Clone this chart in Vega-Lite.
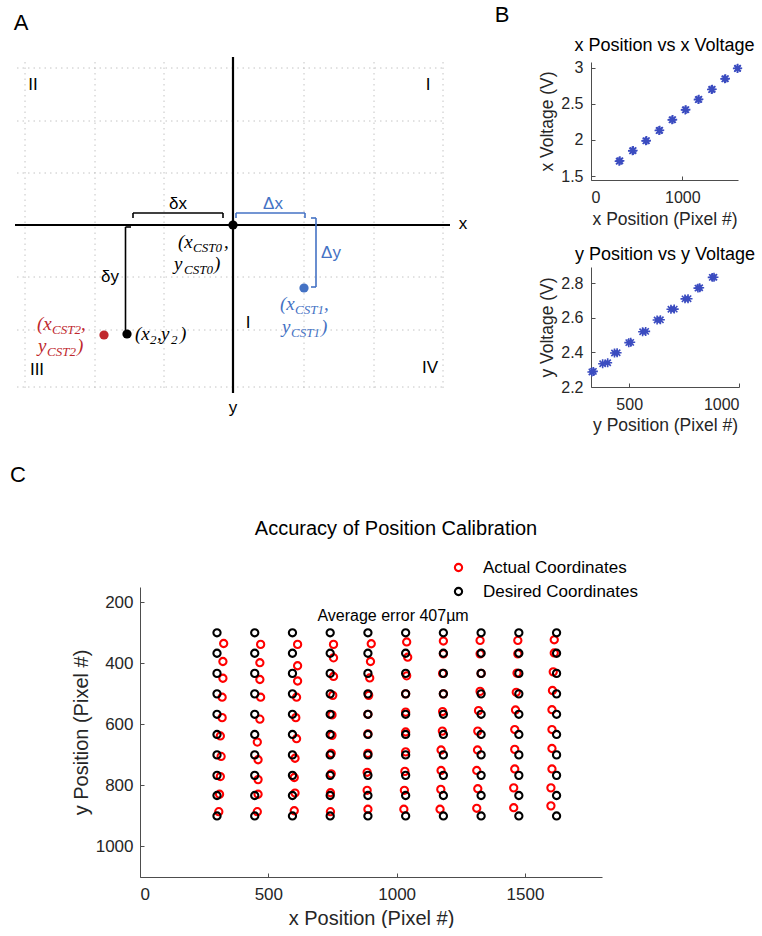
{
  "$schema": "https://vega.github.io/schema/vega-lite/v6.json",
  "padding": 0,
  "autosize": {"type": "pad"},
  "background": "white",
  "config": {
    "view": {"stroke": null},
    "font": "Liberation Sans",
    "axis": {"domainColor": "#4d4d4d", "tickColor": "#4d4d4d", "labelColor": "#262626", "titleColor": "#262626", "titleFontWeight": "normal", "grid": false, "tickSize": -4, "domainWidth": 1, "tickWidth": 1, "labelFont": "Liberation Sans", "titleFont": "Liberation Sans"},
    "title": {"fontWeight": "normal", "color": "#000000", "font": "Liberation Sans"}
  },
  "datasets": {
    "gridA": [
      {"x1": 25, "y1": 62, "x2": 25, "y2": 389}, {"x1": 95, "y1": 62, "x2": 95, "y2": 389}, {"x1": 164, "y1": 62, "x2": 164, "y2": 389},
      {"x1": 304, "y1": 62, "x2": 304, "y2": 389}, {"x1": 374, "y1": 62, "x2": 374, "y2": 389}, {"x1": 443, "y1": 62, "x2": 443, "y2": 389},
      {"x1": 17, "y1": 68, "x2": 446, "y2": 68}, {"x1": 17, "y1": 121, "x2": 446, "y2": 121}, {"x1": 17, "y1": 173, "x2": 446, "y2": 173},
      {"x1": 17, "y1": 277, "x2": 446, "y2": 277}, {"x1": 17, "y1": 330, "x2": 446, "y2": 330}, {"x1": 17, "y1": 387, "x2": 446, "y2": 387}
    ],
    "axesA": [
      {"x1": 15, "y1": 225, "x2": 450, "y2": 225},
      {"x1": 233, "y1": 57, "x2": 233, "y2": 393}
    ],
    "bracketsA": [
      {"x1": 133, "y1": 213, "x2": 223, "y2": 213, "c": "k"}, {"x1": 133, "y1": 213, "x2": 133, "y2": 218, "c": "k"}, {"x1": 223, "y1": 213, "x2": 223, "y2": 218, "c": "k"},
      {"x1": 236, "y1": 213, "x2": 305, "y2": 213, "c": "b"}, {"x1": 236, "y1": 213, "x2": 236, "y2": 218, "c": "b"}, {"x1": 305, "y1": 213, "x2": 305, "y2": 218, "c": "b"},
      {"x1": 316, "y1": 218, "x2": 316, "y2": 287, "c": "b"}, {"x1": 311, "y1": 218, "x2": 316, "y2": 218, "c": "b"}, {"x1": 311, "y1": 287, "x2": 316, "y2": 287, "c": "b"},
      {"x1": 125.5, "y1": 227, "x2": 125.5, "y2": 330, "c": "k"}, {"x1": 125.5, "y1": 227, "x2": 131, "y2": 227, "c": "k"}
    ],
    "dotsA": [
      {"x": 233, "y": 225, "c": "k"}, {"x": 304, "y": 288, "c": "b"}, {"x": 104, "y": 335, "c": "r"}, {"x": 127, "y": 334, "c": "k"}
    ],
    "labelsA": [
      {"x": 33, "y": 85, "text": "II", "c": "k"}, {"x": 428, "y": 85, "text": "I", "c": "k"}, {"x": 37, "y": 370, "text": "III", "c": "k"},
      {"x": 430, "y": 368, "text": "IV", "c": "k"}, {"x": 248, "y": 323, "text": "I", "c": "k"}, {"x": 463, "y": 224, "text": "x", "c": "k"},
      {"x": 233, "y": 408, "text": "y", "c": "k"}, {"x": 178, "y": 204, "text": "δx", "c": "k"}, {"x": 273, "y": 204, "text": "Δx", "c": "b"},
      {"x": 331, "y": 253, "text": "Δy", "c": "b"}, {"x": 110, "y": 277, "text": "δy", "c": "k"}
    ],
    "mathMain": [
      {"x": 178, "y": 248, "text": "(x", "c": "k"}, {"x": 224, "y": 248, "text": ",", "c": "k"}, {"x": 174, "y": 270, "text": "y", "c": "k"}, {"x": 214, "y": 270, "text": ")", "c": "k"},
      {"x": 37, "y": 330, "text": "(x", "c": "r"}, {"x": 81, "y": 330, "text": ",", "c": "r"}, {"x": 38, "y": 352, "text": "y", "c": "r"}, {"x": 77, "y": 352, "text": ")", "c": "r"},
      {"x": 280, "y": 310, "text": "(x", "c": "b"}, {"x": 324, "y": 310, "text": ",", "c": "b"}, {"x": 282, "y": 333, "text": "y", "c": "b"}, {"x": 321, "y": 333, "text": ")", "c": "b"},
      {"x": 135, "y": 340, "text": "(x", "c": "k"}, {"x": 157, "y": 340, "text": ",", "c": "k"}, {"x": 161, "y": 340, "text": "y", "c": "k"}, {"x": 180, "y": 340, "text": ")", "c": "k"}
    ],
    "mathSub": [
      {"x": 193, "y": 252, "text": "CST0", "c": "k"}, {"x": 184, "y": 274, "text": "CST0", "c": "k"},
      {"x": 52, "y": 334, "text": "CST2", "c": "r"}, {"x": 47, "y": 356, "text": "CST2", "c": "r"},
      {"x": 295, "y": 314, "text": "CST1", "c": "b"}, {"x": 291, "y": 337, "text": "CST1", "c": "b"},
      {"x": 150, "y": 344, "text": "2", "c": "k"}, {"x": 171, "y": 344, "text": "2", "c": "k"}
    ],
    "letters": [
      {"x": 21, "y": 23, "text": "A"}, {"x": 502, "y": 15, "text": "B"}, {"x": 18, "y": 475, "text": "C"}
    ],
    "bx": [
      {"pos": 308, "volt": 1.705}, {"pos": 317, "volt": 1.711}, {"pos": 454, "volt": 1.849}, {"pos": 462, "volt": 1.853},
      {"pos": 600, "volt": 1.987}, {"pos": 608, "volt": 1.991}, {"pos": 745, "volt": 2.13}, {"pos": 753, "volt": 2.134},
      {"pos": 887, "volt": 2.278}, {"pos": 895, "volt": 2.282}, {"pos": 1032, "volt": 2.416}, {"pos": 1040, "volt": 2.42},
      {"pos": 1174, "volt": 2.559}, {"pos": 1182, "volt": 2.563}, {"pos": 1320, "volt": 2.698}, {"pos": 1328, "volt": 2.702},
      {"pos": 1465, "volt": 2.846}, {"pos": 1473, "volt": 2.85}, {"pos": 1603, "volt": 2.989}, {"pos": 1607, "volt": 2.993}
    ],
    "by": [
      {"pos": 330, "volt": 2.287}, {"pos": 337, "volt": 2.29}, {"pos": 379, "volt": 2.334}, {"pos": 402, "volt": 2.34},
      {"pos": 433, "volt": 2.396}, {"pos": 445, "volt": 2.398}, {"pos": 498, "volt": 2.456}, {"pos": 507, "volt": 2.458},
      {"pos": 561, "volt": 2.519}, {"pos": 575, "volt": 2.521}, {"pos": 627, "volt": 2.587}, {"pos": 642, "volt": 2.588},
      {"pos": 690, "volt": 2.649}, {"pos": 705, "volt": 2.65}, {"pos": 754, "volt": 2.709}, {"pos": 768, "volt": 2.71},
      {"pos": 813, "volt": 2.771}, {"pos": 821, "volt": 2.773}, {"pos": 878, "volt": 2.833}, {"pos": 886, "volt": 2.834}
    ],
    "cnote": [{"x": 986, "y": 245, "label": "Average error 407µm"}],
    "cpts": [
      {"series": "Actual Coordinates", "x": 326, "y": 335}, {"series": "Actual Coordinates", "x": 323, "y": 394}, {"series": "Actual Coordinates", "x": 323, "y": 449}, {"series": "Actual Coordinates", "x": 320, "y": 511}, {"series": "Actual Coordinates", "x": 320, "y": 578}, {"series": "Actual Coordinates", "x": 313, "y": 638}, {"series": "Actual Coordinates", "x": 316, "y": 705}, {"series": "Actual Coordinates", "x": 313, "y": 771}, {"series": "Actual Coordinates", "x": 310, "y": 829}, {"series": "Actual Coordinates", "x": 307, "y": 886},
      {"series": "Actual Coordinates", "x": 470, "y": 338}, {"series": "Actual Coordinates", "x": 467, "y": 398}, {"series": "Actual Coordinates", "x": 467, "y": 453}, {"series": "Actual Coordinates", "x": 470, "y": 511}, {"series": "Actual Coordinates", "x": 467, "y": 583}, {"series": "Actual Coordinates", "x": 457, "y": 658}, {"series": "Actual Coordinates", "x": 460, "y": 716}, {"series": "Actual Coordinates", "x": 460, "y": 781}, {"series": "Actual Coordinates", "x": 460, "y": 829}, {"series": "Actual Coordinates", "x": 457, "y": 886},
      {"series": "Actual Coordinates", "x": 614, "y": 338}, {"series": "Actual Coordinates", "x": 614, "y": 408}, {"series": "Actual Coordinates", "x": 614, "y": 458}, {"series": "Actual Coordinates", "x": 610, "y": 511}, {"series": "Actual Coordinates", "x": 607, "y": 578}, {"series": "Actual Coordinates", "x": 610, "y": 647}, {"series": "Actual Coordinates", "x": 604, "y": 711}, {"series": "Actual Coordinates", "x": 601, "y": 774}, {"series": "Actual Coordinates", "x": 604, "y": 825}, {"series": "Actual Coordinates", "x": 601, "y": 883},
      {"series": "Actual Coordinates", "x": 754, "y": 338}, {"series": "Actual Coordinates", "x": 754, "y": 382}, {"series": "Actual Coordinates", "x": 754, "y": 443}, {"series": "Actual Coordinates", "x": 751, "y": 505}, {"series": "Actual Coordinates", "x": 748, "y": 569}, {"series": "Actual Coordinates", "x": 748, "y": 636}, {"series": "Actual Coordinates", "x": 745, "y": 695}, {"series": "Actual Coordinates", "x": 745, "y": 762}, {"series": "Actual Coordinates", "x": 742, "y": 824}, {"series": "Actual Coordinates", "x": 742, "y": 886},
      {"series": "Actual Coordinates", "x": 901, "y": 336}, {"series": "Actual Coordinates", "x": 898, "y": 394}, {"series": "Actual Coordinates", "x": 895, "y": 448}, {"series": "Actual Coordinates", "x": 891, "y": 505}, {"series": "Actual Coordinates", "x": 888, "y": 567}, {"series": "Actual Coordinates", "x": 888, "y": 631}, {"series": "Actual Coordinates", "x": 888, "y": 695}, {"series": "Actual Coordinates", "x": 885, "y": 757}, {"series": "Actual Coordinates", "x": 885, "y": 816}, {"series": "Actual Coordinates", "x": 888, "y": 878},
      {"series": "Actual Coordinates", "x": 1039, "y": 330}, {"series": "Actual Coordinates", "x": 1043, "y": 380}, {"series": "Actual Coordinates", "x": 1039, "y": 441}, {"series": "Actual Coordinates", "x": 1035, "y": 500}, {"series": "Actual Coordinates", "x": 1035, "y": 560}, {"series": "Actual Coordinates", "x": 1035, "y": 625}, {"series": "Actual Coordinates", "x": 1035, "y": 690}, {"series": "Actual Coordinates", "x": 1032, "y": 754}, {"series": "Actual Coordinates", "x": 1030, "y": 816}, {"series": "Actual Coordinates", "x": 1028, "y": 878},
      {"series": "Actual Coordinates", "x": 1182, "y": 327}, {"series": "Actual Coordinates", "x": 1182, "y": 369}, {"series": "Actual Coordinates", "x": 1179, "y": 433}, {"series": "Actual Coordinates", "x": 1182, "y": 500}, {"series": "Actual Coordinates", "x": 1179, "y": 558}, {"series": "Actual Coordinates", "x": 1178, "y": 622}, {"series": "Actual Coordinates", "x": 1173, "y": 684}, {"series": "Actual Coordinates", "x": 1173, "y": 751}, {"series": "Actual Coordinates", "x": 1172, "y": 813}, {"series": "Actual Coordinates", "x": 1169, "y": 878},
      {"series": "Actual Coordinates", "x": 1325, "y": 325}, {"series": "Actual Coordinates", "x": 1325, "y": 369}, {"series": "Actual Coordinates", "x": 1329, "y": 433}, {"series": "Actual Coordinates", "x": 1325, "y": 492}, {"series": "Actual Coordinates", "x": 1319, "y": 555}, {"series": "Actual Coordinates", "x": 1316, "y": 622}, {"series": "Actual Coordinates", "x": 1315, "y": 684}, {"series": "Actual Coordinates", "x": 1312, "y": 751}, {"series": "Actual Coordinates", "x": 1316, "y": 811}, {"series": "Actual Coordinates", "x": 1312, "y": 875},
      {"series": "Actual Coordinates", "x": 1472, "y": 325}, {"series": "Actual Coordinates", "x": 1472, "y": 369}, {"series": "Actual Coordinates", "x": 1469, "y": 432}, {"series": "Actual Coordinates", "x": 1466, "y": 495}, {"series": "Actual Coordinates", "x": 1463, "y": 553}, {"series": "Actual Coordinates", "x": 1460, "y": 617}, {"series": "Actual Coordinates", "x": 1460, "y": 682}, {"series": "Actual Coordinates", "x": 1460, "y": 746}, {"series": "Actual Coordinates", "x": 1456, "y": 808}, {"series": "Actual Coordinates", "x": 1456, "y": 873},
      {"series": "Actual Coordinates", "x": 1614, "y": 323}, {"series": "Actual Coordinates", "x": 1614, "y": 366}, {"series": "Actual Coordinates", "x": 1610, "y": 428}, {"series": "Actual Coordinates", "x": 1607, "y": 489}, {"series": "Actual Coordinates", "x": 1605, "y": 552}, {"series": "Actual Coordinates", "x": 1605, "y": 617}, {"series": "Actual Coordinates", "x": 1605, "y": 679}, {"series": "Actual Coordinates", "x": 1605, "y": 746}, {"series": "Actual Coordinates", "x": 1601, "y": 808}, {"series": "Actual Coordinates", "x": 1601, "y": 867},
      {"series": "Desired Coordinates", "x": 300, "y": 300}, {"series": "Desired Coordinates", "x": 300, "y": 367}, {"series": "Desired Coordinates", "x": 300, "y": 433}, {"series": "Desired Coordinates", "x": 300, "y": 500}, {"series": "Desired Coordinates", "x": 300, "y": 567}, {"series": "Desired Coordinates", "x": 300, "y": 633}, {"series": "Desired Coordinates", "x": 300, "y": 700}, {"series": "Desired Coordinates", "x": 300, "y": 767}, {"series": "Desired Coordinates", "x": 300, "y": 833}, {"series": "Desired Coordinates", "x": 300, "y": 900},
      {"series": "Desired Coordinates", "x": 447, "y": 300}, {"series": "Desired Coordinates", "x": 447, "y": 367}, {"series": "Desired Coordinates", "x": 447, "y": 433}, {"series": "Desired Coordinates", "x": 447, "y": 500}, {"series": "Desired Coordinates", "x": 447, "y": 567}, {"series": "Desired Coordinates", "x": 447, "y": 633}, {"series": "Desired Coordinates", "x": 447, "y": 700}, {"series": "Desired Coordinates", "x": 447, "y": 767}, {"series": "Desired Coordinates", "x": 447, "y": 833}, {"series": "Desired Coordinates", "x": 447, "y": 900},
      {"series": "Desired Coordinates", "x": 594, "y": 300}, {"series": "Desired Coordinates", "x": 594, "y": 367}, {"series": "Desired Coordinates", "x": 594, "y": 433}, {"series": "Desired Coordinates", "x": 594, "y": 500}, {"series": "Desired Coordinates", "x": 594, "y": 567}, {"series": "Desired Coordinates", "x": 594, "y": 633}, {"series": "Desired Coordinates", "x": 594, "y": 700}, {"series": "Desired Coordinates", "x": 594, "y": 767}, {"series": "Desired Coordinates", "x": 594, "y": 833}, {"series": "Desired Coordinates", "x": 594, "y": 900},
      {"series": "Desired Coordinates", "x": 741, "y": 300}, {"series": "Desired Coordinates", "x": 741, "y": 367}, {"series": "Desired Coordinates", "x": 741, "y": 433}, {"series": "Desired Coordinates", "x": 741, "y": 500}, {"series": "Desired Coordinates", "x": 741, "y": 567}, {"series": "Desired Coordinates", "x": 741, "y": 633}, {"series": "Desired Coordinates", "x": 741, "y": 700}, {"series": "Desired Coordinates", "x": 741, "y": 767}, {"series": "Desired Coordinates", "x": 741, "y": 833}, {"series": "Desired Coordinates", "x": 741, "y": 900},
      {"series": "Desired Coordinates", "x": 888, "y": 300}, {"series": "Desired Coordinates", "x": 888, "y": 367}, {"series": "Desired Coordinates", "x": 888, "y": 433}, {"series": "Desired Coordinates", "x": 888, "y": 500}, {"series": "Desired Coordinates", "x": 888, "y": 567}, {"series": "Desired Coordinates", "x": 888, "y": 633}, {"series": "Desired Coordinates", "x": 888, "y": 700}, {"series": "Desired Coordinates", "x": 888, "y": 767}, {"series": "Desired Coordinates", "x": 888, "y": 833}, {"series": "Desired Coordinates", "x": 888, "y": 900},
      {"series": "Desired Coordinates", "x": 1035, "y": 300}, {"series": "Desired Coordinates", "x": 1035, "y": 367}, {"series": "Desired Coordinates", "x": 1035, "y": 433}, {"series": "Desired Coordinates", "x": 1035, "y": 500}, {"series": "Desired Coordinates", "x": 1035, "y": 567}, {"series": "Desired Coordinates", "x": 1035, "y": 633}, {"series": "Desired Coordinates", "x": 1035, "y": 700}, {"series": "Desired Coordinates", "x": 1035, "y": 767}, {"series": "Desired Coordinates", "x": 1035, "y": 833}, {"series": "Desired Coordinates", "x": 1035, "y": 900},
      {"series": "Desired Coordinates", "x": 1182, "y": 300}, {"series": "Desired Coordinates", "x": 1182, "y": 367}, {"series": "Desired Coordinates", "x": 1182, "y": 433}, {"series": "Desired Coordinates", "x": 1182, "y": 500}, {"series": "Desired Coordinates", "x": 1182, "y": 567}, {"series": "Desired Coordinates", "x": 1182, "y": 633}, {"series": "Desired Coordinates", "x": 1182, "y": 700}, {"series": "Desired Coordinates", "x": 1182, "y": 767}, {"series": "Desired Coordinates", "x": 1182, "y": 833}, {"series": "Desired Coordinates", "x": 1182, "y": 900},
      {"series": "Desired Coordinates", "x": 1329, "y": 300}, {"series": "Desired Coordinates", "x": 1329, "y": 367}, {"series": "Desired Coordinates", "x": 1329, "y": 433}, {"series": "Desired Coordinates", "x": 1329, "y": 500}, {"series": "Desired Coordinates", "x": 1329, "y": 567}, {"series": "Desired Coordinates", "x": 1329, "y": 633}, {"series": "Desired Coordinates", "x": 1329, "y": 700}, {"series": "Desired Coordinates", "x": 1329, "y": 767}, {"series": "Desired Coordinates", "x": 1329, "y": 833}, {"series": "Desired Coordinates", "x": 1329, "y": 900},
      {"series": "Desired Coordinates", "x": 1476, "y": 300}, {"series": "Desired Coordinates", "x": 1476, "y": 367}, {"series": "Desired Coordinates", "x": 1476, "y": 433}, {"series": "Desired Coordinates", "x": 1476, "y": 500}, {"series": "Desired Coordinates", "x": 1476, "y": 567}, {"series": "Desired Coordinates", "x": 1476, "y": 633}, {"series": "Desired Coordinates", "x": 1476, "y": 700}, {"series": "Desired Coordinates", "x": 1476, "y": 767}, {"series": "Desired Coordinates", "x": 1476, "y": 833}, {"series": "Desired Coordinates", "x": 1476, "y": 900},
      {"series": "Desired Coordinates", "x": 1623, "y": 300}, {"series": "Desired Coordinates", "x": 1623, "y": 367}, {"series": "Desired Coordinates", "x": 1623, "y": 433}, {"series": "Desired Coordinates", "x": 1623, "y": 500}, {"series": "Desired Coordinates", "x": 1623, "y": 567}, {"series": "Desired Coordinates", "x": 1623, "y": 633}, {"series": "Desired Coordinates", "x": 1623, "y": 700}, {"series": "Desired Coordinates", "x": 1623, "y": 767}, {"series": "Desired Coordinates", "x": 1623, "y": 833}, {"series": "Desired Coordinates", "x": 1623, "y": 900}
    ]
  },
  "bounds": "flush",
  "spacing": 587,
  "resolve": {"scale": {"color": "independent"}, "legend": {"color": "independent"}},
  "vconcat": [
    {
      "bounds": "flush",
      "spacing": 0,
      "hconcat": [
        {
          "width": 591,
          "height": 587,
          "view": {"fill": "white", "stroke": null},
          "layer": [
            {
              "data": {"name": "gridA"},
              "mark": {"type": "rule", "color": "#c4c4c4", "strokeWidth": 1, "strokeDash": [1.5, 4]},
              "encoding": {
                "x": {"field": "x1", "type": "quantitative", "scale": {"domain": [0, 591], "nice": false, "zero": false}, "axis": null},
                "y": {"field": "y1", "type": "quantitative", "scale": {"domain": [0, 587], "reverse": true, "nice": false, "zero": false}, "axis": null},
                "x2": {"field": "x2"},
                "y2": {"field": "y2"}
              }
            },
            {
              "data": {"name": "axesA"},
              "mark": {"type": "rule", "color": "#000000", "strokeWidth": 2.2},
              "encoding": {
                "x": {"field": "x1", "type": "quantitative", "scale": {"domain": [0, 591], "nice": false, "zero": false}, "axis": null},
                "y": {"field": "y1", "type": "quantitative", "scale": {"domain": [0, 587], "reverse": true, "nice": false, "zero": false}, "axis": null},
                "x2": {"field": "x2"},
                "y2": {"field": "y2"}
              }
            },
            {
              "data": {"name": "bracketsA"},
              "mark": {"type": "rule", "strokeWidth": 1.6},
              "encoding": {
                "x": {"field": "x1", "type": "quantitative", "scale": {"domain": [0, 591], "nice": false, "zero": false}, "axis": null},
                "y": {"field": "y1", "type": "quantitative", "scale": {"domain": [0, 587], "reverse": true, "nice": false, "zero": false}, "axis": null},
                "x2": {"field": "x2"},
                "y2": {"field": "y2"},
                "color": {"field": "c", "type": "nominal", "scale": {"domain": ["k", "b", "r"], "range": ["#000000", "#4472c4", "#c0282d"]}, "legend": null}
              }
            },
            {
              "data": {"name": "dotsA"},
              "mark": {"type": "point", "filled": true, "size": 85, "opacity": 1},
              "encoding": {
                "x": {"field": "x", "type": "quantitative", "scale": {"domain": [0, 591], "nice": false, "zero": false}, "axis": null},
                "y": {"field": "y", "type": "quantitative", "scale": {"domain": [0, 587], "reverse": true, "nice": false, "zero": false}, "axis": null},
                "color": {"field": "c", "type": "nominal", "scale": {"domain": ["k", "b", "r"], "range": ["#000000", "#4472c4", "#c0282d"]}, "legend": null}
              }
            },
            {
              "data": {"name": "labelsA"},
              "mark": {"type": "text", "font": "Liberation Sans", "fontSize": 17, "align": "center", "baseline": "middle"},
              "encoding": {
                "x": {"field": "x", "type": "quantitative", "scale": {"domain": [0, 591], "nice": false, "zero": false}, "axis": null},
                "y": {"field": "y", "type": "quantitative", "scale": {"domain": [0, 587], "reverse": true, "nice": false, "zero": false}, "axis": null},
                "text": {"field": "text"},
                "color": {"field": "c", "type": "nominal", "scale": {"domain": ["k", "b", "r"], "range": ["#000000", "#4472c4", "#c0282d"]}, "legend": null}
              }
            },
            {
              "data": {"name": "mathMain"},
              "mark": {"type": "text", "font": "Liberation Serif", "fontStyle": "italic", "fontSize": 19, "align": "left", "baseline": "alphabetic"},
              "encoding": {
                "x": {"field": "x", "type": "quantitative", "scale": {"domain": [0, 591], "nice": false, "zero": false}, "axis": null},
                "y": {"field": "y", "type": "quantitative", "scale": {"domain": [0, 587], "reverse": true, "nice": false, "zero": false}, "axis": null},
                "text": {"field": "text"},
                "color": {"field": "c", "type": "nominal", "scale": {"domain": ["k", "b", "r"], "range": ["#000000", "#4472c4", "#c0282d"]}, "legend": null}
              }
            },
            {
              "data": {"name": "mathSub"},
              "mark": {"type": "text", "font": "Liberation Serif", "fontStyle": "italic", "fontSize": 13, "align": "left", "baseline": "alphabetic"},
              "encoding": {
                "x": {"field": "x", "type": "quantitative", "scale": {"domain": [0, 591], "nice": false, "zero": false}, "axis": null},
                "y": {"field": "y", "type": "quantitative", "scale": {"domain": [0, 587], "reverse": true, "nice": false, "zero": false}, "axis": null},
                "text": {"field": "text"},
                "color": {"field": "c", "type": "nominal", "scale": {"domain": ["k", "b", "r"], "range": ["#000000", "#4472c4", "#c0282d"]}, "legend": null}
              }
            },
            {
              "data": {"name": "letters"},
              "mark": {"type": "text", "font": "Liberation Sans", "fontSize": 22, "align": "center", "baseline": "middle", "color": "#000000"},
              "encoding": {
                "x": {"field": "x", "type": "quantitative", "scale": {"domain": [0, 591], "nice": false, "zero": false}, "axis": null},
                "y": {"field": "y", "type": "quantitative", "scale": {"domain": [0, 587], "reverse": true, "nice": false, "zero": false}, "axis": null},
                "text": {"field": "text"}
              }
            }
          ]
        },
        {
          "bounds": "flush",
          "spacing": 0,
          "vconcat": [
            {"width": 148, "height": 62, "data": {"values": []}, "mark": "point"},
            {
              "width": 147,
              "height": 118,
              "data": {"name": "bx"},
              "title": {"text": "x Position vs x Voltage", "fontSize": 18, "offset": 5},
              "mark": {"type": "point", "shape": "M-1,0L1,0M0,-1L0,1M-0.7,-0.7L0.7,0.7M-0.7,0.7L0.7,-0.7", "filled": false, "color": "#3b4cc0", "strokeWidth": 1.6, "size": 80, "opacity": 1},
              "encoding": {
                "x": {"field": "pos", "type": "quantitative", "scale": {"domain": [0, 1610], "nice": false, "zero": false}, "axis": {"values": [0, 1000], "format": "d", "title": "x Position (Pixel #)", "labelFontSize": 16, "titleFontSize": 17.5, "labelPadding": 13, "titlePadding": 5}},
                "y": {"field": "volt", "type": "quantitative", "scale": {"domain": [1.445, 3.08], "nice": false, "zero": false}, "axis": {"values": [1.5, 2, 2.5, 3], "format": "~g", "title": "x Voltage (V)", "labelFontSize": 16, "titleFontSize": 17.5, "labelPadding": 12, "titlePadding": 4}}
              }
            },
            {"width": 148, "height": 87, "data": {"values": []}, "mark": "point"},
            {
              "width": 148,
              "height": 120,
              "data": {"name": "by"},
              "title": {"text": "y Position vs y Voltage", "fontSize": 18, "offset": 3},
              "mark": {"type": "point", "shape": "M-1,0L1,0M0,-1L0,1M-0.7,-0.7L0.7,0.7M-0.7,0.7L0.7,-0.7", "filled": false, "color": "#3b4cc0", "strokeWidth": 1.6, "size": 80, "opacity": 1},
              "encoding": {
                "x": {"field": "pos", "type": "quantitative", "scale": {"domain": [326, 1000], "nice": false, "zero": false}, "axis": {"values": [500, 1000], "format": "d", "title": "y Position (Pixel #)", "labelFontSize": 16, "titleFontSize": 17.5, "labelPadding": 13, "titlePadding": 4}},
                "y": {"field": "volt", "type": "quantitative", "scale": {"domain": [2.2, 2.893], "nice": false, "zero": false}, "axis": {"values": [2.2, 2.4, 2.6, 2.8], "format": "~g", "title": "y Voltage (V)", "labelFontSize": 16, "titleFontSize": 17.5, "labelPadding": 12, "titlePadding": 4}}
              }
            }
          ]
        }
      ]
    },
    {
      "bounds": "flush",
      "spacing": 0,
      "hconcat": [
        {"width": 140, "height": 2, "data": {"values": []}, "mark": "point"},
        {
          "width": 462,
          "height": 290,
          "title": {"text": "Accuracy of Position Calibration", "fontSize": 20, "offset": 48, "frame": "group", "dx": 25},
          "layer": [
            {
              "data": {"name": "cpts"},
              "mark": {"type": "point", "filled": false, "size": 52, "strokeWidth": 2.1, "opacity": 1},
              "encoding": {
                "x": {"field": "x", "type": "quantitative", "scale": {"domain": [0, 1800], "nice": false, "zero": false}, "axis": {"values": [0, 500, 1000, 1500], "format": "d", "title": "x Position (Pixel #)", "labelFontSize": 17, "titleFontSize": 20, "labelPadding": 13, "titlePadding": 6}},
                "y": {"field": "y", "type": "quantitative", "scale": {"domain": [150, 1100], "reverse": true, "nice": false, "zero": false}, "axis": {"values": [200, 400, 600, 800, 1000], "format": "d", "title": "y Position (Pixel #)", "labelFontSize": 17, "titleFontSize": 20, "labelPadding": 11, "titlePadding": 4}},
                "color": {"field": "series", "type": "nominal", "scale": {"domain": ["Actual Coordinates", "Desired Coordinates"], "range": ["#ff0000", "#000000"]},
                  "legend": {"orient": "none", "legendX": 450, "legendY": -28, "title": null, "labelFontSize": 17, "labelFont": "Liberation Sans", "labelColor": "#000000", "symbolType": "circle", "symbolSize": 52, "symbolStrokeWidth": 2.1, "rowPadding": 6, "labelOffset": 16, "padding": 0, "symbolOffset": 0}}
              }
            },
            {
              "data": {"name": "cnote"},
              "mark": {"type": "text", "fontSize": 16, "align": "center", "baseline": "middle", "color": "#000000"},
              "encoding": {
                "x": {"field": "x", "type": "quantitative"},
                "y": {"field": "y", "type": "quantitative"},
                "text": {"field": "label"}
              }
            }
          ]
        }
      ]
    }
  ]
}
